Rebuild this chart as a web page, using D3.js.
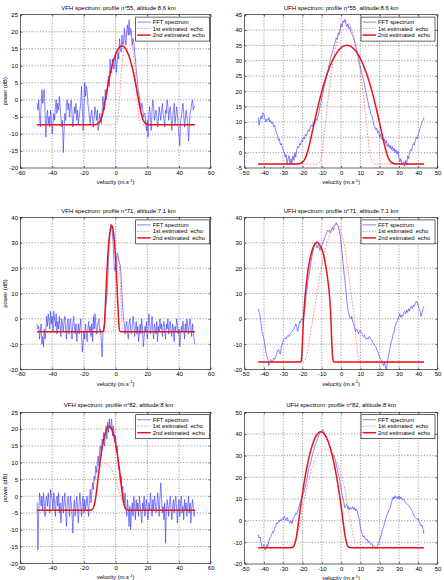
<!DOCTYPE html>
<html><head><meta charset="utf-8">
<script src="https://cdn.jsdelivr.net/npm/d3@7"></script>
<style>
body{margin:0;background:#fff}
svg{display:block}
text{font-family:"Liberation Sans",Arial,sans-serif;fill:#000}
</style>
</head><body>
<svg id="c" width="444" height="580"></svg>
<script>
// ---------------- DATA ----------------
const titles = [
  "VFH spectrum: profile n°55, altitude:8.6 km",
  "UFH spectrum: profile n°55, altitude:8.6 km",
  "VFH spectrum: profile n°71, altitude:7.1 km",
  "UFH spectrum: profile n°71, altitude:7.1 km",
  "VFH spectrum: profile n°82, altitude:8 km",
  "UFH spectrum: profile n°82, altitude:8 km"
];
const legendLabels = ["FFT spectrum", "1st estimated  echo", "2nd estimated  echo"];
const xLabel = "velocity (m.s";
const xLabelSup = "-1";
const yLabel = "power (dB)";

const vfhTicksX = [-60, -40, -20, 0, 20, 40, 60];
const ufhTicksX = [-50, -40, -30, -20, -10, 0, 10, 20, 30, 40, 50];
const p1TicksY = [-20, -15, -10, -5, 0, 5, 10, 15, 20, 25];
const p2TicksY = [-5, 0, 5, 10, 15, 20, 25, 30, 35, 40, 45];
const p3TicksY = [-20, -10, 0, 10, 20, 30, 40];
const p4TicksY = [-20, -10, 0, 10, 20, 30, 40];
const p5TicksY = [-20, -15, -10, -5, 0, 5, 10, 15, 20, 25];
const p6TicksY = [-20, -10, 0, 10, 20, 30, 40, 50];

// velocity bins
const vfhStart = -49.5, ufhStart = -43, binStep = 0.5;

// Panel 1: VFH n°55 FFT spectrum (dB), bins from -49.5 step 0.5
const p1Spectrum = [
  -1,-3,0,-5,-8,-2,3,-1,2,3,
  -4,-11,-6,-3,-7,-5,-8,-3,-6,-10,
  -7,-4,-6,-2,0,-4,-1,-3,1,-2,
  -5,-8,-6,-15.5,-9,-4,-6,-1,0,-3,
  -1,-5,-2,0,-4,-8,-5,-2,-4,-1,
  -6,-3,-7,-5,-3,-1,4,-2,-9,-5,
  5,1,4,3,-1,-3,-5,-7,-4,-3,
  -6,-8,-5,-2,-4,-6,-3,-9,-7,-4,
  -6,-7,-3,1,-2,-3,3,0,2,5,
  7,4,12,9,8,12,10,9,11,13,
  8,11,14,12,18,15,14,19,16,17,
  21,18,16,20,22,19,23.5,19,21,20,
  16,18,17,14,12,9,7,4,2,1,
  -1,-3,-1,-2,-5,-4,-4,-7,-9,-6,
  -11,-4,-2,-6,-9,-3,0,-2,-6,-4,
  -3,-5,-8,-6,-2,-4,-6,-3,-1,-4,
  -6,-8,-3,-4,0,-2,-6,-3,-2,-5,
  -9,-6,-3,-1,-7,-5,-2,-4,-8,-10,
  -13.5,-6,-5,-3,-1,-4,-8,-6,-3,-5,
  -6,-12,-8,-4,-3,-1,0,-3,-2,-2
];
const p1Echo1 = [[-49.5,-7.3],[-1,-7.3],[0,-7.2],[1,-6.27],[2,-2.34],[3,3.97],[4,9.97],[5,14.76],[6,18.22],[7,20.31],[8,21],[9,20.31],[10,18.22],[11,14.76],[12,9.97],[13,3.97],[14,-2.34],[15,-6.27],[16,-7.2],[17,-7.3],[50,-7.3]];
const p1Echo2 = [[-49.5,-7.3],[-13,-7.3],[-12,-7.2],[-11,-6.98],[-10,-6.46],[-9,-5.39],[-8,-3.63],[-7,-1.32],[-6,1.26],[-5,3.85],[-4,6.27],[-3,8.48],[-2,10.41],[-1,12.05],[0,13.41],[1,14.46],[2,15.22],[3,15.67],[4,15.82],[5,15.67],[6,15.22],[7,14.46],[8,13.41],[9,12.05],[10,10.41],[11,8.48],[12,6.27],[13,3.85],[14,1.26],[15,-1.32],[16,-3.63],[17,-5.39],[18,-6.46],[19,-6.98],[20,-7.2],[21,-7.3],[50,-7.3]];

// Panel 2: UFH n°55, bins from -43 step 0.5
const p2Spectrum = [
  11.5,9,10.5,12,11,13,12.5,11,10,
  11,10.5,11.5,10,10.5,9.5,10,8.5,9,
  7.5,6.5,5.5,4,4.5,2.5,3,1.5,1,
  0,-1.5,-0.5,-4,-2,-1,-4,-2,-3.5,
  -1,-2.5,0,-1.5,1,2,1.5,3,2.5,
  4,3.5,5,4.5,6,5.5,6.5,7.5,7,
  8,9,8.5,9.5,10,9.5,11,10.5,12,
  13,15,16,18,19,21,22,23.5,25,
  26,28,29,31,31.5,33,34,35.5,36,
  37.5,37,39,38.5,40,42,41,43,42.5,
  43.5,42,41,42,40.5,41,39.5,39,38,
  37.5,36,35,33.5,32,31,29,28,26.5,
  25,24,22.5,21,19.5,18,16.5,15,14,
  12.5,12,10.5,9,8.5,7.5,8,6.5,7,
  5,6,4.5,5,3.5,4.5,3,4,2,
  3,1.5,2.5,1,2,0.5,1.5,0,1,
  -0.5,0.5,-1.5,-3,-2,-3.5,-4,-3,-4.5,
  -2.5,-4,-1,-2,0,1,0.5,2,3,
  2.5,4,5,4.5,6,7,8,9,10,
  10.5,11.5
];
const p2Echo1 = [[-43,-3.7],[-13.5,-3.7],[-12.5,-3.67],[-11.5,-3.4],[-10.5,-2.12],[-9.5,1.67],[-8.5,7.36],[-7.5,13.34],[-6.5,18.9],[-5.5,23.96],[-4.5,28.43],[-3.5,32.29],[-2.5,35.57],[-1.5,38.24],[-0.5,40.32],[0.5,41.81],[1.5,42.7],[2.5,43],[3.5,42.7],[4.5,41.81],[5.5,40.32],[6.5,38.24],[7.5,35.57],[8.5,32.29],[9.5,28.43],[10.5,23.96],[11.5,18.9],[12.5,13.34],[13.5,7.36],[14.5,1.67],[15.5,-2.12],[16.5,-3.4],[17.5,-3.67],[18.5,-3.7],[43,-3.7]];
const p2Echo2 = [[-43,-3.7],[-23,-3.7],[-22,-3.61],[-21,-3.46],[-20,-3.1],[-19,-2.32],[-18,-0.92],[-17,1.18],[-16,3.8],[-15,6.65],[-14,9.55],[-13,12.38],[-12,15.02],[-11,17.59],[-10,19.99],[-9,22.21],[-8,24.25],[-7,26.12],[-6,27.81],[-5,29.31],[-4,30.65],[-3,31.8],[-2,32.78],[-1,33.58],[0,34.2],[1,34.65],[2,34.91],[3,35],[4,34.91],[5,34.65],[6,34.2],[7,33.58],[8,32.78],[9,31.8],[10,30.65],[11,29.31],[12,27.81],[13,26.12],[14,24.25],[15,22.21],[16,19.99],[17,17.59],[18,15.02],[19,12.38],[20,9.55],[21,6.65],[22,3.8],[23,1.18],[24,-0.92],[25,-2.32],[26,-3.1],[27,-3.46],[28,-3.61],[29,-3.7],[43,-3.7]];

// Panel 3: VFH n°71
const p3Spectrum = [
  -2,-4,-3,-8,-5,-2,-10,-7,-11,-4,
  -8,-5,1,-3,2,-1,-4,3,-2,1,
  -5,3,0,-3,2,-6,-1,-4,1,-3,
  -7,0,-2,-5,-1,1,-4,-8,-2,0,
  -6,-3,0,-4,-8,-2,1,-3,-6,-2,
  -9,-5,-2,-6,-3,0,-7,-13,-10,-5,
  -8,-2,-6,-9,-4,-1,-5,-3,-7,-2,
  -9,1,-4,2,-2,-6,-3,-1,0,-5,
  -4,-9,-15,-6,-3,-2,3,6,9,15,
  24,30,33,37.5,36,34,29,22,19,20,
  24,26,25,23,22,21,16,10,4,0,
  -2,-6,-3,-1,-5,-8,-2,0,-4,-6,
  -3,1,-2,-7,-4,-1,-6,-3,-9,-5,
  -2,-6,0,-4,-11,-7,-3,-5,-1,-8,
  -4,2,-2,-6,-3,1,-5,-8,-2,-4,
  -6,-1,-9,-3,-5,0,-4,-2,-7,-3,
  -1,-5,-8,-2,-4,0,-6,-3,-1,-5,
  -7,-2,-4,-9,-3,-5,0,-2,-6,-4,
  -11,-7,-3,-5,-1,-4,-8,-2,-5,0,
  -3,-6,-2,0,-4,-7,-2,-5,-8,-10
];
const p3Echo1 = [[-49.5,-5.1],[-2,-5.1],[-1.5,-4.97],[-1,-2.7],[-0.5,5.3],[0,13.75],[0.5,19.97],[1,23.74],[1.5,25],[2,23.74],[2.5,19.97],[3,13.75],[3.5,5.3],[4,-2.7],[4.5,-4.97],[5,-5.1],[50,-5.1]];
const p3Echo2 = [[-49.5,-5.1],[-8.5,-5.1],[-8,-5.05],[-7.5,-4.63],[-7,-1.92],[-6.5,4.47],[-6,11.75],[-5.5,18.35],[-5,23.97],[-4.5,28.59],[-4,32.18],[-3.5,34.75],[-3,36.29],[-2.5,36.8],[-2,36.29],[-1.5,34.75],[-1,32.18],[-0.5,28.59],[0,23.97],[0.5,18.35],[1,11.75],[1.5,4.47],[2,-1.92],[2.5,-4.63],[3,-5.05],[3.5,-5.1],[50,-5.1]];

// Panel 4: UFH n°71
const p4Spectrum = [
  4,2.5,1,-2,-5,-6.5,-8,-10.5,-13,
  -15,-16,-18.5,-17,-16,-16.5,-17,-15.5,-16,
  -15,-14,-12.5,-12,-13.5,-14,-11,-10,-8.5,
  -8,-7.5,-8,-7,-6.5,-7,-6,-5.5,-5,
  -4.5,-4,-3,-2,-3.5,-5,-3,-1,-1.5,
  0,-0.5,0.5,3,6,10,13,16,18,
  20,23,25,27,29,30,29.5,28,29,
  28.5,27,28,29,30,31,32,33,34,
  35,34.5,35,34,35,36,35,36.5,37,
  38,37,36.5,35,33,30,26,22,18,
  15,11,7,4,2,0.5,0,1,-1,
  -2,-3.5,-5,-4,-4.5,-6,-5,-4.5,-5.5,
  -6,-7,-6.5,-7.5,-8,-7.5,-8,-7,-7.5,
  -8,-8.5,-9.5,-10,-10.5,-11,-12,-13,-14,
  -15,-16,-16.5,-17.5,-18.5,-17,-19,-20,-17,
  -15,-13,-11,-9,-8,-6,-5,-3,-1.5,
  -1,0,1,2,0.5,1.5,1,2.5,3,
  2,3.5,2.5,4,3,4.5,5,4,5.5,
  5,6,7,6.5,5,4,3,1,2.5,
  4,5
];
const p4Echo1 = [[-43,-17],[-19.5,-17],[-18.5,-16],[-17,-11],[-15.5,-4],[-14,3],[-12.5,10],[-11,17],[-9.5,23],[-8,28],[-6.5,32],[-5,35.5],[-3.5,37],[-2,37.3],[-1,36.5],[0.5,33],[2,28],[3.5,20],[5,11],[6.5,2],[7.5,-6],[8.5,-13],[9.5,-16.5],[10.5,-17],[43,-17]];
const p4Echo2 = [[-43,-17],[-21,-17],[-20.6,-16.5],[-20.2,-12],[-19.7,-3],[-19,6],[-18,14],[-17,20],[-16,24],[-15,27],[-14,29],[-13,30],[-12.3,30.2],[-11,29],[-10,27.5],[-9,25],[-8,21],[-7,16],[-6,9],[-5.5,3],[-5,-6],[-4.5,-14],[-4,-16.8],[-3.5,-17],[43,-17]];

// Panel 5: VFH n°82
const p5Spectrum = [
  -2,-16,-5,1,-1,-3,0,-4,1,-2,
  -6,-1,0,-3,1,-2,-5,2,0,-1,
  -4,1,-2,-6,-1,0,-3,1,-5,-2,
  -8,-3,0,-5,-2,1,-4,-9,-2,0,
  -3,-6,0,-2,-5,-11,-4,-1,-6,-3,
  0,-4,-8,-2,1,-3,-6,-2,0,-5,
  -1,-4,-2,0,-3,-6,-1,2,-2,1,
  4,2,6,5,9,7,10,12,9,14,
  15,12,17,16,19,15,18,21,17,22,
  19,23,20,21,23,18,21,19,16,18,
  13,15,10,8,9,4,6,2,3,0,
  -2,1,-3,-6,-1,-4,-9,-3,-10,-5,
  -2,-6,0,-3,-7,-1,-4,-2,-6,0,
  -3,-5,-8,-2,-4,0,-6,-3,-1,-5,
  -7,-2,-4,1,-3,-6,-1,-4,0,-2,
  -5,-3,1,-2,-6,0,4,-1,-5,-3,
  -7,-2,-14,-5,-1,-3,-6,-2,0,-4,
  -7,-3,-1,-5,-2,0,-4,-8,-3,-1,
  -6,-2,0,-5,-3,-7,-1,-4,-2,-6,
  -3,0,-5,-2,-8,-4,-1,-3,-6,-4
];
const p5Echo1 = [[-49.5,-4.2],[-23.5,-4.2],[-22.5,-4.15],[-21.5,-4.03],[-20.5,-3.83],[-19.5,-3.45],[-18.5,-2.77],[-17.5,-1.76],[-16.5,-0.44],[-15.5,1.07],[-14.5,2.66],[-13.5,4.2],[-12.5,5.62],[-11.5,6.87],[-10.5,7.91],[-9.5,8.73],[-8.5,9.32],[-7.5,9.68],[-6.5,9.8],[-5.5,9.68],[-4.5,9.32],[-3.5,8.73],[-2.5,7.91],[-1.5,6.87],[-0.5,5.62],[0.5,4.2],[1.5,2.66],[2.5,1.07],[3.5,-0.44],[4.5,-1.76],[5.5,-2.77],[6.5,-3.45],[7.5,-3.83],[8.5,-4.03],[9.5,-4.15],[10.5,-4.2],[50,-4.2]];
const p5Echo2 = [[-49.5,-4.2],[-17,-4.2],[-16,-4.18],[-15,-3.98],[-14,-3.44],[-13,-1.69],[-12,1.55],[-11,5.52],[-10,9.41],[-9,12.85],[-8,15.7],[-7,17.93],[-6,19.53],[-5,20.49],[-4,20.81],[-3,20.49],[-2,19.53],[-1,17.93],[0,15.7],[1,12.85],[2,9.41],[3,5.52],[4,1.55],[5,-1.69],[6,-3.44],[7,-3.98],[8,-4.18],[9,-4.2],[50,-4.2]];

// Panel 6: UFH n°82
const p6Spectrum = [
  -6.5,-8,-7.5,-10,-12.5,-12,-11,-13.5,-13,
  -11,-12,-9.5,-8,-7.5,-6.5,-5,-5.5,-3.5,
  -2.5,-1,-1.5,0,-0.5,0.5,0,1,0.5,
  2,1,0,1.5,0.5,-0.5,-1,0,-1.5,
  0.5,1.5,2,3.5,3,4.5,6,7.5,9,
  10,12,12.5,14,16,18,20,23,25,
  26,28,30,31.5,33,34.5,36,37,38,
  39.5,40.5,41,41.5,42,41,40,39,38,
  37,36,34.5,33.5,32,31,30.5,29,28,
  26,24,22,20,17,15,12,10,8,
  6,7,7.5,5.5,6.5,5,6,5.5,6.5,
  5,6,4.5,5.5,4,2,0,-3,-5,
  -6,-7.5,-7,-8.5,-9,-8.5,-10,-9.5,-10.5,
  -11,-10.5,-12,-11.5,-12,-13,-12.5,-11.5,-10,
  -9,-7.5,-6,-4,-3,-1,0.5,2,3,
  4,5.5,6,8,9.5,11,10,11.5,10.5,
  11,10,11.5,10,11,10.5,9.5,10,9,
  8.5,8,7.5,7,6.5,5.5,5,4,3,
  2,1.5,1,0.5,1,-0.5,-1.5,-2.5,-2,
  -4,-6
];
const p6Echo1 = [[-43,-12.5],[-27,-12.5],[-25,-11],[-23,-7],[-21,0],[-19,10],[-17,18],[-15,24.5],[-13,29],[-11,31.5],[-9,32.5],[-7,32.7],[-5,31.5],[-3,28.5],[-1,24],[1,18],[2,14],[3,9],[4,4],[5,-1],[6,-5.5],[7,-9],[8,-11.5],[9,-12.4],[10,-12.5],[43,-12.5]];
const p6Echo2 = [[-43,-12.5],[-26.5,-12.5],[-25.5,-12.4],[-24.5,-11.8],[-23.5,-9.13],[-22.5,-3.42],[-21.5,3.31],[-20.5,9.78],[-19.5,15.69],[-18.5,21],[-17.5,25.69],[-16.5,29.75],[-15.5,33.19],[-14.5,36],[-13.5,38.19],[-12.5,39.75],[-11.5,40.69],[-10.5,41],[-9.5,40.69],[-8.5,39.75],[-7.5,38.19],[-6.5,36],[-5.5,33.19],[-4.5,29.75],[-3.5,25.69],[-2.5,21],[-1.5,15.69],[-0.5,9.78],[0.5,3.31],[1.5,-3.42],[2.5,-9.13],[3.5,-11.8],[4.5,-12.4],[5.5,-12.5],[43,-12.5]];

// ---------------- LAYOUT / STYLE ----------------
const layout = [
  {l:20.5, r:210.7, t:14.7, b:168,   legR:1,   ylab:true},
  {l:244.7, r:437.5, t:14.7, b:168,  legR:2.5, ylab:false},
  {l:20.5, r:210.7, t:217.5, b:369.5, legR:1,  ylab:true},
  {l:244.7, r:437.5, t:217.5, b:369.5, legR:2.5, ylab:false},
  {l:20.5, r:210.7, t:412.3, b:563.3, legR:1,  ylab:true},
  {l:244.7, r:437.5, t:412.3, b:564,  legR:2.5, ylab:false}
];
const panelData = [
  {spec:p1Spectrum, start:vfhStart, e1:p1Echo1, e2:p1Echo2, xd:[-60,60], xt:vfhTicksX, yt:p1TicksY},
  {spec:p2Spectrum, start:ufhStart, e1:p2Echo1, e2:p2Echo2, xd:[-50,50], xt:ufhTicksX, yt:p2TicksY},
  {spec:p3Spectrum, start:vfhStart, e1:p3Echo1, e2:p3Echo2, xd:[-60,60], xt:vfhTicksX, yt:p3TicksY},
  {spec:p4Spectrum, start:ufhStart, e1:p4Echo1, e2:p4Echo2, xd:[-50,50], xt:ufhTicksX, yt:p4TicksY},
  {spec:p5Spectrum, start:vfhStart, e1:p5Echo1, e2:p5Echo2, xd:[-60,60], xt:vfhTicksX, yt:p5TicksY},
  {spec:p6Spectrum, start:ufhStart, e1:p6Echo1, e2:p6Echo2, xd:[-50,50], xt:ufhTicksX, yt:p6TicksY}
];
const BLUE = "#3030ff", PINK = "#ff6a6a", RED = "#e8141c";
const FONT = "'Liberation Sans', Arial, sans-serif";

const svg = d3.select("#c");

panelData.forEach((pd, i) => {
  const L = layout[i];
  const x = d3.scaleLinear().domain(pd.xd).range([L.l, L.r]);
  const yd = d3.extent(pd.yt);
  const y = d3.scaleLinear().domain(yd).range([L.b, L.t]);
  const g = svg.append("g");

  const clipId = "clip" + i;
  svg.append("clipPath").attr("id", clipId).append("rect")
    .attr("x", L.l).attr("y", L.t).attr("width", L.r - L.l).attr("height", L.b - L.t);

  // grid
  const grid = g.append("g").attr("stroke", "#3a3a3a").attr("stroke-width", 0.5).attr("stroke-dasharray", "1.2,1.6");
  pd.xt.slice(1, -1).forEach(v => grid.append("line").attr("x1", x(v)).attr("x2", x(v)).attr("y1", L.t).attr("y2", L.b));
  pd.yt.slice(1, -1).forEach(v => grid.append("line").attr("y1", y(v)).attr("y2", y(v)).attr("x1", L.l).attr("x2", L.r));

  const plot = g.append("g").attr("clip-path", `url(#${clipId})`);
  const specPts = pd.spec.map((v, k) => [pd.start + k * binStep, v]);
  const lineLin = d3.line().x(d => x(d[0])).y(d => y(d[1]));
  const lineSm = d3.line().x(d => x(d[0])).y(d => y(d[1])).curve(d3.curveMonotoneX);

  plot.append("path").attr("d", lineLin(specPts)).attr("fill", "none")
    .attr("stroke", BLUE).attr("stroke-width", 0.6).attr("stroke-linejoin", "round");
  plot.append("path").attr("d", lineSm(pd.e1)).attr("fill", "none")
    .attr("stroke", PINK).attr("stroke-width", 0.7).attr("stroke-dasharray", "1.8,1.4");
  plot.append("path").attr("d", lineSm(pd.e2)).attr("fill", "none")
    .attr("stroke", RED).attr("stroke-width", 1.5).attr("stroke-linejoin", "round");

  // axes (inward ticks), plain hyphen-minus labels as in the original
  const fmt = d => String(d);
  const ax = g.append("g").attr("transform", `translate(0,${L.b})`)
    .call(d3.axisBottom(x).tickValues(pd.xt).tickFormat(fmt).tickSize(-2).tickPadding(2.7));
  const ay = g.append("g").attr("transform", `translate(${L.l},0)`)
    .call(d3.axisLeft(y).tickValues(pd.yt).tickFormat(fmt).tickSize(-2).tickPadding(2.5));
  const at = g.append("g").attr("transform", `translate(0,${L.t})`)
    .call(d3.axisTop(x).tickValues(pd.xt).tickFormat("").tickSize(-2));
  const ar = g.append("g").attr("transform", `translate(${L.r},0)`)
    .call(d3.axisRight(y).tickValues(pd.yt).tickFormat("").tickSize(-2));
  [ax, ay, at, ar].forEach(a => {
    a.select(".domain").remove();
    a.selectAll("line").attr("stroke", "#000").attr("stroke-width", 0.5);
    a.attr("font-family", FONT).attr("font-size", 6);
    a.selectAll("text").attr("fill", "#000");
  });

  // box
  g.append("rect").attr("x", L.l).attr("y", L.t).attr("width", L.r - L.l).attr("height", L.b - L.t)
    .attr("fill", "none").attr("stroke", "#000").attr("stroke-width", 0.6);

  // title
  g.append("text").attr("x", (L.l + L.r) / 2 + (i % 2 === 0 ? 3 : 0)).attr("y", L.t - 5)
    .attr("text-anchor", "middle").attr("font-size", 6).text(titles[i]);

  // x label
  const xl = g.append("text").attr("x", (L.l + L.r) / 2).attr("y", L.b + 16)
    .attr("text-anchor", "middle").attr("font-size", 5.8);
  xl.append("tspan").text(xLabel);
  xl.append("tspan").attr("font-size", 4).attr("dy", -2.2).text(xLabelSup);
  xl.append("tspan").attr("dy", 2.2).text(")");

  // y label
  if (L.ylab) {
    g.append("text").attr("transform", `translate(7.3,${(L.t + L.b) / 2}) rotate(-90)`)
      .attr("text-anchor", "middle").attr("font-size", 5.8).text(yLabel);
  }

  // legend
  const lw = 74, lh = 24;
  const lx = L.r - L.legR - lw, ly = L.t + 2.4;
  const lg = g.append("g");
  lg.append("rect").attr("x", lx).attr("y", ly).attr("width", lw).attr("height", lh)
    .attr("fill", "#fff").attr("stroke", "#000").attr("stroke-width", 0.6);
  const rows = [5, 11.5, 18];
  const styles = [
    {c: BLUE, w: 0.6, d: null},
    {c: PINK, w: 0.7, d: "1.8,1.4"},
    {c: RED, w: 1.5, d: null}
  ];
  legendLabels.forEach((lab, k) => {
    const yy = ly + rows[k];
    const ln = lg.append("line").attr("x1", lx + 1.5).attr("x2", lx + 15).attr("y1", yy).attr("y2", yy)
      .attr("stroke", styles[k].c).attr("stroke-width", styles[k].w);
    if (styles[k].d) ln.attr("stroke-dasharray", styles[k].d);
    lg.append("text").attr("x", lx + 17).attr("y", yy + 2).attr("font-size", 5.8)
      .style("white-space", "pre").text(lab);
  });
});
</script>
</body></html>
